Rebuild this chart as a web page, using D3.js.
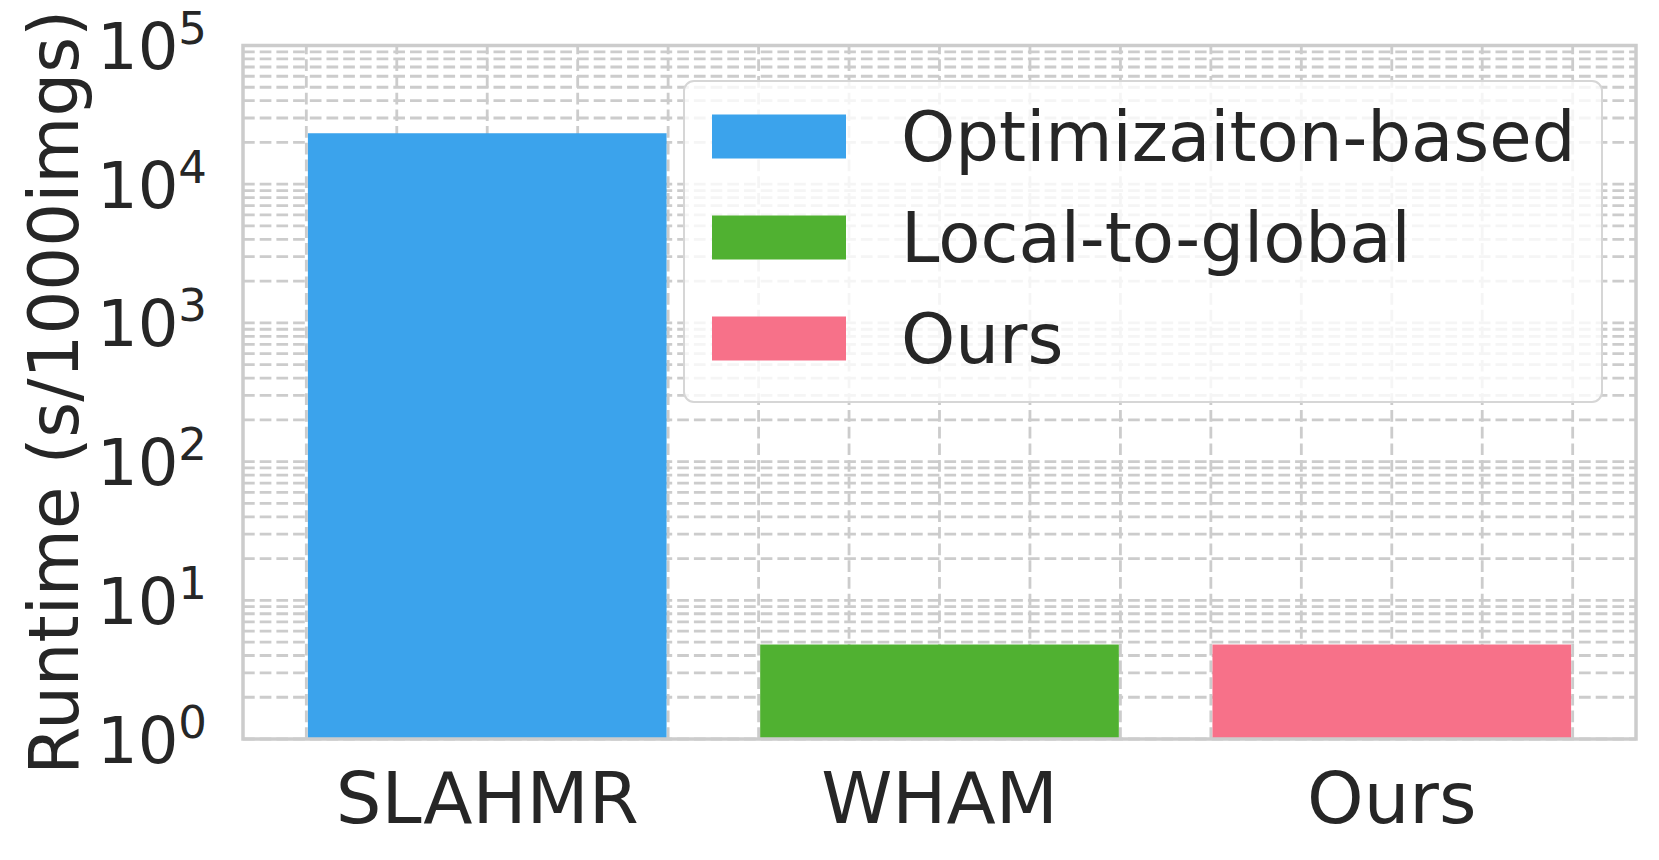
<!DOCTYPE html>
<html>
<head>
<meta charset="utf-8">
<script src="https://cdn.jsdelivr.net/npm/d3@7"></script>
<style>
  html, body { margin: 0; padding: 0; background: #ffffff; }
  svg { display: block; }
  text { font-family: "DejaVu Sans", sans-serif; fill: #262626; }
</style>
</head>
<body>
<svg id="chart" width="1659" height="860"></svg>
<script>
// ---- data ----
const categories = ["SLAHMR", "WHAM", "Ours"];
const runtimes = [23300, 4.8, 4.8];
const legendLabels = ["Optimizaiton-based", "Local-to-global", "Ours"];
const yTickExponents = [0, 1, 2, 3, 4, 5];
const yLabel = "Runtime (s/1000imgs)";

// ---- styles ----
const palette = ["#3ba3ec", "#50b131", "#f77189"];
const gridColor = "#cccccc";

const svg = d3.select("#chart");
const plot = { left: 243, right: 1636, top: 45.5, bottom: 739 };

// x: numeric positions of the categories (0,1,2) with matplotlib-like margins
const xLin = d3.scaleLinear().domain([-0.54, 2.54]).range([plot.left, plot.right]);
const xBand = d3.scaleBand().domain(categories)
  .range([plot.left, plot.right]).paddingInner(0.207).paddingOuter(0.1435);
const y = d3.scaleLog().domain([1, 1e5]).range([plot.bottom, plot.top]);

const g = svg.append("g");

// ---- grid (major + minor) ----
const yMinor = [];
for (let e = 0; e < 5; e++) for (let m = 1; m <= 9; m++) yMinor.push(m * Math.pow(10, e));
yMinor.push(1e5);
g.append("g").selectAll("line").data(yMinor).join("line")
  .attr("x1", plot.left).attr("x2", plot.right)
  .attr("y1", d => y(d)).attr("y2", d => y(d))
  .attr("stroke", gridColor).attr("stroke-width", 2.8)
  .attr("stroke-dasharray", "11.7 5");

const xMinor = d3.range(-2, 13).map(i => i * 0.2);
g.append("g").selectAll("line").data(xMinor).join("line")
  .attr("x1", d => xLin(d)).attr("x2", d => xLin(d))
  .attr("y1", plot.bottom).attr("y2", plot.top)
  .attr("stroke", gridColor).attr("stroke-width", 2.8)
  .attr("stroke-dasharray", "11.7 5");

// ---- bars ----
g.append("g").selectAll("rect").data(categories).join("rect")
  .attr("x", d => xBand(d))
  .attr("width", xBand.bandwidth())
  .attr("y", (d, i) => y(runtimes[i]))
  .attr("height", (d, i) => y(1) - y(runtimes[i]))
  .attr("fill", (d, i) => palette[i]);

// ---- frame ----
g.append("rect")
  .attr("x", plot.left).attr("y", plot.top)
  .attr("width", plot.right - plot.left).attr("height", plot.bottom - plot.top)
  .attr("fill", "none").attr("stroke", gridColor).attr("stroke-width", 3.5);

// ---- x tick labels ----
g.append("g").selectAll("text").data(categories).join("text")
  .attr("x", d => xBand(d) + xBand.bandwidth() / 2)
  .attr("y", 823)
  .attr("text-anchor", "middle")
  .attr("font-size", 72)
  .text(d => d);

// ---- y tick labels ----
const yt = g.append("g").selectAll("text").data(yTickExponents).join("text")
  .attr("x", 207)
  .attr("y", d => y(Math.pow(10, d)) + 23.5)
  .attr("text-anchor", "end")
  .attr("font-size", 64);
yt.append("tspan").text("10");
yt.append("tspan").attr("dy", -25).attr("font-size", 45).text(d => d);

// ---- y label ----
g.append("text")
  .attr("transform", `translate(78, ${(plot.top + plot.bottom) / 2}) rotate(-90)`)
  .attr("text-anchor", "middle")
  .attr("font-size", 69)
  .text(yLabel);

// ---- legend ----
const leg = g.append("g");
leg.append("rect")
  .attr("x", 684).attr("y", 81).attr("width", 918).attr("height", 321)
  .attr("rx", 10).attr("ry", 10)
  .attr("fill", "#ffffff").attr("fill-opacity", 0.8)
  .attr("stroke", "#d6d6d6").attr("stroke-width", 2);
const rows = leg.selectAll("g.row").data(legendLabels).join("g")
  .attr("class", "row")
  .attr("transform", (d, i) => `translate(0, ${136.5 + i * 101})`);
rows.append("rect")
  .attr("x", 712).attr("y", -22).attr("width", 134).attr("height", 44)
  .attr("fill", (d, i) => palette[i]);
rows.append("text")
  .attr("x", 901).attr("y", 24.5)
  .attr("font-size", 69)
  .text(d => d);
</script>
</body>
</html>
